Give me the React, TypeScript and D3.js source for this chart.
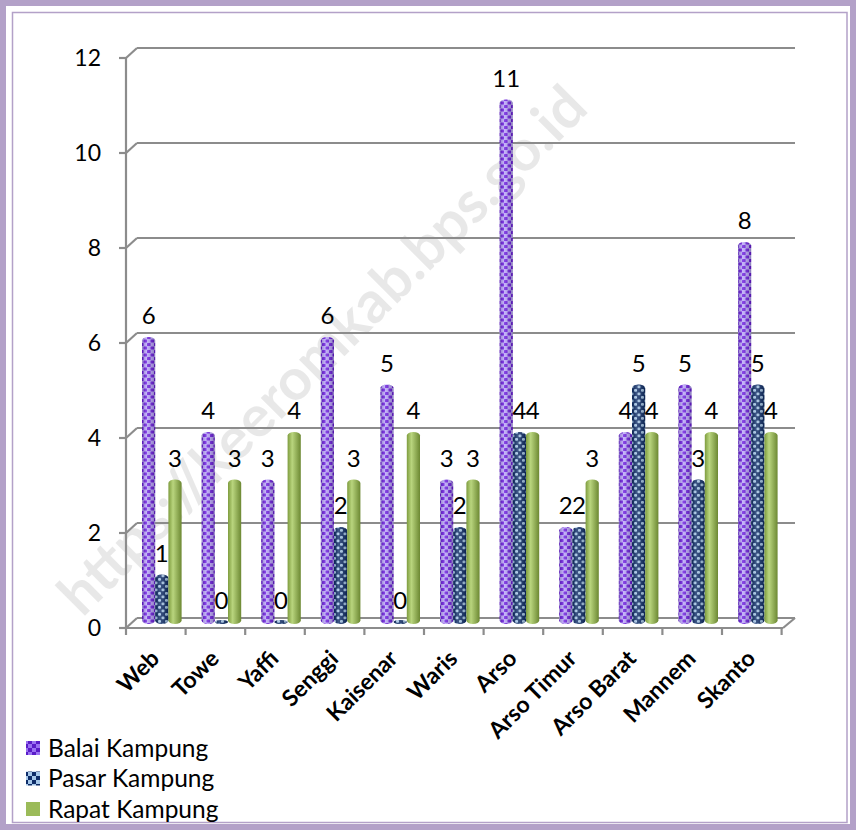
import React, { useEffect, useRef } from 'react';
import * as d3 from 'd3';

const categories = ['Web', 'Towe', 'Yaffi', 'Senggi', 'Kaisenar', 'Waris', 'Arso', 'Arso Timur', 'Arso Barat', 'Mannem', 'Skanto'];
const balaiKampung = [6, 4, 3, 6, 5, 3, 11, 2, 4, 5, 8];
const pasarKampung = [1, 0, 0, 2, 0, 2, 4, 2, 5, 3, 5];
const rapatKampung = [3, 3, 4, 3, 4, 3, 4, 3, 4, 4, 4];
const seriesNames = ['Balai Kampung', 'Pasar Kampung', 'Rapat Kampung'];
const yTicks = [0, 2, 4, 6, 8, 10, 12];

const W = 856;
const H = 830;
const FONT = 'Lato, "Noto Sans", sans-serif';

const App: React.FC = () => {
  const svgRef = useRef<SVGSVGElement>(null);

  useEffect(() => {
    if (!svgRef.current) return;
    const root = d3.select(svgRef.current);
    root.selectAll('*').remove();

    const defs = root.append('defs');

    // patterns for the two textured series
    const pB = defs.append('pattern').attr('id', 'pBalai').attr('patternUnits', 'userSpaceOnUse')
      .attr('width', 7).attr('height', 7);
    pB.append('rect').attr('width', 7).attr('height', 7).attr('fill', '#b9a4fb');
    pB.append('rect').attr('x', 0).attr('y', 0).attr('width', 3.6).attr('height', 3).attr('rx', 0.6).attr('fill', '#6a18e0');
    pB.append('rect').attr('x', 3.5).attr('y', 3.5).attr('width', 3.6).attr('height', 3).attr('rx', 0.6).attr('fill', '#6a18e0');

    const pP = defs.append('pattern').attr('id', 'pPasar').attr('patternUnits', 'userSpaceOnUse')
      .attr('width', 7).attr('height', 7);
    pP.append('rect').attr('width', 7).attr('height', 7).attr('fill', '#0d2c68');
    pP.append('rect').attr('x', 0.5).attr('y', 0.5).attr('width', 3).attr('height', 2.8).attr('rx', 1).attr('fill', '#a6c8ea');
    pP.append('rect').attr('x', 4).attr('y', 4).attr('width', 3).attr('height', 2.8).attr('rx', 1).attr('fill', '#a6c8ea');

    // legend patterns (bigger checks)
    const lB = defs.append('pattern').attr('id', 'lBalai').attr('patternUnits', 'userSpaceOnUse')
      .attr('width', 8).attr('height', 8);
    lB.append('rect').attr('width', 8).attr('height', 8).attr('fill', '#9a72f2');
    lB.append('rect').attr('width', 4).attr('height', 4).attr('fill', '#5a1cc8');
    lB.append('rect').attr('x', 4).attr('y', 4).attr('width', 4).attr('height', 4).attr('fill', '#5a1cc8');

    const lP = defs.append('pattern').attr('id', 'lPasar').attr('patternUnits', 'userSpaceOnUse')
      .attr('width', 8).attr('height', 8);
    lP.append('rect').attr('width', 8).attr('height', 8).attr('fill', '#0d2c68');
    lP.append('rect').attr('width', 4).attr('height', 4).attr('fill', '#a6c8ea');
    lP.append('rect').attr('x', 4).attr('y', 4).attr('width', 4).attr('height', 4).attr('fill', '#a6c8ea');

    // cylinder shading
    const shade = defs.append('linearGradient').attr('id', 'shade').attr('x1', '0%').attr('x2', '100%');
    shade.append('stop').attr('offset', '0%').attr('stop-color', '#000').attr('stop-opacity', 0.2);
    shade.append('stop').attr('offset', '35%').attr('stop-color', '#fff').attr('stop-opacity', 0.2);
    shade.append('stop').attr('offset', '100%').attr('stop-color', '#000').attr('stop-opacity', 0.25);

    const green = defs.append('linearGradient').attr('id', 'green').attr('x1', '0%').attr('x2', '100%');
    green.append('stop').attr('offset', '0%').attr('stop-color', '#7e9c3e');
    green.append('stop').attr('offset', '35%').attr('stop-color', '#b9d57e');
    green.append('stop').attr('offset', '100%').attr('stop-color', '#6c8832');

    const svg = root.attr('width', W).attr('height', H).attr('viewBox', `0 0 ${W} ${H}`);

    svg.append('rect').attr('width', W).attr('height', H).attr('fill', '#fff');

    // frame
    svg.append('rect').attr('x', 3).attr('y', 3).attr('width', W - 6).attr('height', H - 6)
      .attr('fill', 'none').attr('stroke', '#b3a1c8').attr('stroke-width', 6);
    svg.append('rect').attr('x', 12.5).attr('y', 12.5).attr('width', W - 21.5).attr('height', H - 20)
      .attr('fill', 'none').attr('stroke', '#b3a1c8').attr('stroke-width', 1.5);

    // watermark
    svg.append('text')
      .attr('transform', 'translate(322, 350) rotate(-45)')
      .attr('text-anchor', 'middle').attr('dy', '0.35em')
      .attr('font-family', FONT).attr('font-weight', 'bold').attr('font-size', 58)
      .attr('fill', '#000').attr('fill-opacity', 0.09)
      .text('https://keeromkab.bps.go.id');

    // scales
    const x = d3.scaleBand().domain(categories).range([126, 781.6]);
    const y = d3.scaleLinear().domain([0, 12]).range([628, 58]);
    const dx = 11;
    const dy = -10;

    const grid = svg.append('g').attr('stroke', '#8c8c8c').attr('stroke-width', 2.2).attr('fill', 'none');
    // back wall gridlines + left wall diagonals
    yTicks.forEach(t => {
      grid.append('line').attr('x1', 126 + dx).attr('x2', 795).attr('y1', y(t) + dy).attr('y2', y(t) + dy);
      grid.append('line').attr('x1', 126).attr('x2', 126 + dx).attr('y1', y(t)).attr('y2', y(t) + dy);
      grid.append('line').attr('x1', 119).attr('x2', 126).attr('y1', y(t)).attr('y2', y(t));
    });
    // front axis and floor
    grid.append('line').attr('x1', 126).attr('x2', 126).attr('y1', y(12)).attr('y2', y(0));
    grid.append('line').attr('x1', 126).attr('x2', 783).attr('y1', y(0)).attr('y2', y(0));
    grid.append('line').attr('x1', 783).attr('x2', 795).attr('y1', y(0)).attr('y2', y(0) + dy);
    d3.range(categories.length + 1).forEach(i => {
      const tx = 126 + x.step() * i;
      grid.append('line').attr('x1', tx).attr('x2', tx).attr('y1', y(0)).attr('y2', y(0) + 7);
    });

    // y labels
    svg.append('g').selectAll('text').data(yTicks).enter().append('text')
      .attr('x', 101).attr('y', d => y(d)).attr('dy', '0.35em')
      .attr('text-anchor', 'end').attr('font-family', FONT).attr('font-size', 23).attr('fill', '#000')
      .text(d => d);

    // bars
    const series = [balaiKampung, pasarKampung, rapatKampung];
    const fills = ['url(#pBalai)', 'url(#pPasar)', 'url(#green)'];
    const bw = 13.2;
    const base = y(0) - 5;
    const barY = (v: number) => base - (y(0) - y(v));
    const bars = svg.append('g');
    series.forEach((vals, s) => {
      vals.forEach((v, i) => {
        const cx = (x(categories[i]) as number) + x.bandwidth() / 2 + 6;
        const bx = cx - 1.5 * bw + s * bw;
        const top = barY(v);
        const h = Math.max(base - top, 2);
        bars.append('rect').attr('x', bx).attr('y', base - h - 1).attr('width', bw).attr('height', h + 2)
          .attr('rx', bw / 2).attr('ry', 3.5).attr('fill', fills[s]);
        if (s < 2) {
          bars.append('rect').attr('x', bx).attr('y', base - h - 1).attr('width', bw).attr('height', h + 2)
            .attr('rx', bw / 2).attr('ry', 3.5).attr('fill', 'url(#shade)');
        }
        bars.append('text')
          .attr('x', bx + bw / 2).attr('y', top - 14)
          .attr('text-anchor', 'middle').attr('font-family', FONT).attr('font-size', 24).attr('fill', '#000')
          .text(v);
      });
    });

    // x labels
    svg.append('g').selectAll('text').data(categories).enter().append('text')
      .attr('transform', d => `translate(${(x(d) as number) + x.bandwidth() / 2 + 5}, 660) rotate(-45)`)
      .attr('text-anchor', 'end').attr('font-family', FONT).attr('font-weight', 'bold')
      .attr('font-size', 23).attr('fill', '#000')
      .text(d => d);

    // legend
    const legendFills = ['url(#lBalai)', 'url(#lPasar)', '#9bbb59'];
    const legend = svg.append('g');
    seriesNames.forEach((n, i) => {
      const ly = 748 + i * 30.5;
      legend.append('rect').attr('x', 26).attr('y', ly - 7).attr('width', 14).attr('height', 14).attr('fill', legendFills[i]);
      legend.append('text').attr('x', 48).attr('y', ly).attr('dy', '0.35em')
        .attr('font-family', FONT).attr('font-size', 24.5).attr('fill', '#000').text(n);
    });
  }, []);

  return <svg ref={svgRef} style={{ display: 'block', position: 'absolute', left: 0, top: 0 }}></svg>;
};

export default App;
